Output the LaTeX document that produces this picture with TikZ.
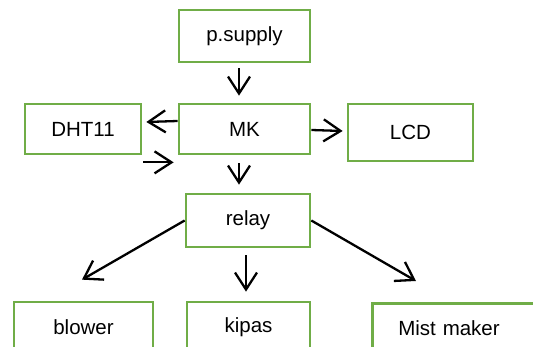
\documentclass[tikz,border=0pt]{standalone}
\usepackage{fontspec}
\setmainfont{Liberation Sans}
\usetikzlibrary{arrows.meta,calc}
\definecolor{boxgreen}{HTML}{70AD47}
\begin{document}
\begin{tikzpicture}[x=1pt,y=-1pt,
  box/.style={draw=boxgreen,line width=2.7pt,rectangle,inner sep=0pt,
    font=\fontsize{20.5}{24}\selectfont},
  arr/.style={draw=black,line width=2.3pt,-{Straight Barb[length=17pt,width=22pt,line width=2.3pt]}}]
\useasboundingbox (0,0) rectangle (533,347);
\clip (0,0) rectangle (533,347);
\fill[white] (0,0) rectangle (533,347);
\node[box,minimum width=131pt,minimum height=52pt] (ps) at (244.5,36) {p.supply};
\node[box,minimum width=131pt,minimum height=50pt] (mk) at (244.5,129) {MK};
\node[box,minimum width=116pt,minimum height=50pt] (dht) at (83,129) {DHT11};
\node[box,minimum width=125pt,minimum height=57pt] (lcd) at (410.5,132.5) {LCD};
\node[box,minimum width=124pt,minimum height=53pt] (relay) at (248,220.5) {relay};
\node[box,minimum width=139pt,minimum height=50pt] (blower) at (83.5,327) {blower};
\node[box,minimum width=123pt,minimum height=50pt] (kipas) at (248.5,327) {kipas};
\node[box,minimum height=50pt,text width=150pt,align=left,inner xsep=26pt,anchor=north west] (mist) at (371,302) {Mist maker};
\draw[arr] ($(ps.south)+(-5.5,5)$) -- ($(mk.north)+(-5.5,-7)$);
\draw[arr] ($(mk.west)+(0,-8)$) -- ($(dht.east)+(4,-7)$);
\draw[arr] ($(mk.east)+(0,1)$) -- ($(lcd.west)+(-4,-1.5)$);
\draw[arr] ($(dht.south east)+(1,7)$) -- ($(mk.south west)+(-4,7)$);
\draw[arr] ($(mk.south)+(-5.5,8)$) -- ($(relay.north)+(-9,-8)$);
\draw[arr] (relay.west) -- ($(blower.north)+(-1.5,-21)$);
\draw[arr] ($(relay.south)+(-2,7)$) -- ($(kipas.north)+(-2.5,-9)$);
\draw[arr] (relay.east) -- ($(mist.north west)+(45,-21)$);
\end{tikzpicture}
\end{document}
